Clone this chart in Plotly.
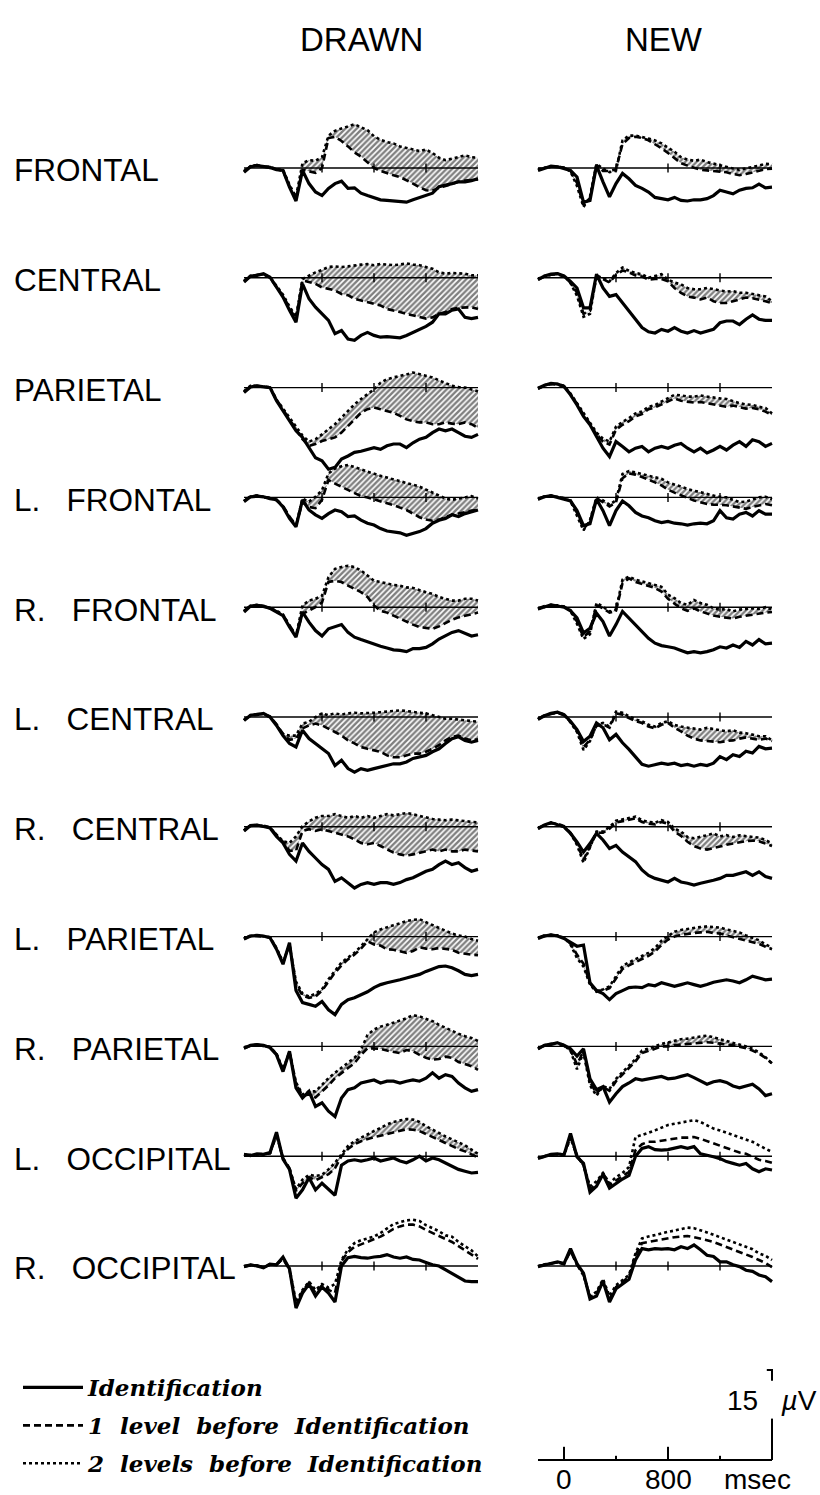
import plotly.graph_objects as go

# ---------------- data (µV) ----------------
TIME_MS = [-200, -150, -100, -50, 0, 50, 100, 150, 200, 250, 300, 350, 400, 450, 500,
           550, 600, 650, 700, 750, 800, 850, 900, 950, 1000, 1050, 1100, 1150, 1200,
           1250, 1300, 1350, 1400, 1450, 1500, 1550, 1600]

SITE_LABELS = ["FRONTAL", "CENTRAL", "PARIETAL", "L.\u00a0\u00a0 FRONTAL", "R.\u00a0\u00a0 FRONTAL",
               "L.\u00a0\u00a0 CENTRAL", "R.\u00a0\u00a0 CENTRAL", "L.\u00a0\u00a0 PARIETAL",
               "R.\u00a0\u00a0 PARIETAL", "L.\u00a0\u00a0 OCCIPITAL", "R.\u00a0\u00a0 OCCIPITAL"]
CONDITIONS = ["DRAWN", "NEW"]
SERIES_NAMES = ["Identification", "1\u00a0 level\u00a0 before\u00a0 Identification",
                "2\u00a0 levels\u00a0 before\u00a0 Identification"]

SCALE_UV = 15
SCALE_TICKS_MS = [0, 400, 800, 1200]
SCALE_TICK_LABELS = ["0", "", "800", ""]
BASELINE_TICKS_MS = [400, 800, 1200]

# ---- DRAWN ----
FRONTAL_DRAWN_ID = [-0.7, 0.2, 0.4, 0.3, 0.1, -0.3, -0.4, -3.2, -5.5, -0.4, -2.6, -4.0, -4.6, -3.4, -2.6, -2.2, -3.4, -3.3, -4.2, -4.6, -4.9, -5.3, -5.4, -5.5, -5.7, -5.7, -5.3, -4.9, -4.6, -4.2, -3.1, -2.9, -2.6, -2.3, -2.3, -2.1, -1.8]
FRONTAL_DRAWN_L1 = [-0.6, 0.3, 0.5, 0.2, 0.0, -0.2, -0.5, -3.0, -5.2, -0.3, -0.6, -0.8, 0.0, 5.0, 5.2, 4.5, 3.6, 2.6, 1.9, 1.0, 0.0, -0.5, -0.9, -1.2, -1.5, -2.0, -2.6, -3.2, -3.7, -3.8, -3.3, -3.0, -2.6, -2.3, -2.1, -2.0, -1.9]
FRONTAL_DRAWN_L2 = [-0.5, 0.3, 0.5, 0.2, 0.2, -0.2, -0.3, -2.8, -4.8, 0.8, 1.3, 1.2, 1.8, 5.4, 6.2, 6.6, 6.9, 7.3, 6.8, 6.3, 5.3, 4.7, 4.3, 4.1, 3.6, 3.4, 3.1, 2.8, 3.1, 2.5, 1.7, 1.3, 1.6, 1.9, 2.1, 1.8, 1.7]

CENTRAL_DRAWN_ID = [-0.7, 0.3, 0.4, 0.7, 0.1, -1.6, -3.2, -5.4, -7.4, -1.0, -3.5, -4.9, -6.0, -7.1, -9.3, -8.8, -10.2, -10.4, -9.6, -9.1, -9.6, -9.9, -9.8, -9.9, -10.0, -9.6, -9.1, -8.5, -8.1, -7.4, -6.0, -6.0, -5.4, -5.2, -6.6, -6.8, -6.6]
CENTRAL_DRAWN_L1 = [-0.6, 0.2, 0.5, 0.6, 0.0, -1.4, -3.0, -5.0, -7.0, -0.4, -0.7, -1.0, -1.6, -1.8, -2.1, -2.7, -2.9, -3.5, -3.8, -4.1, -4.3, -4.6, -5.2, -5.4, -5.7, -6.0, -6.3, -6.6, -6.8, -6.6, -6.0, -5.7, -5.2, -5.0, -4.9, -4.9, -5.2]
CENTRAL_DRAWN_L2 = [-0.5, 0.3, 0.4, 0.6, 0.1, -1.3, -2.8, -4.8, -6.5, -0.2, 0.4, 0.9, 1.3, 1.8, 1.9, 1.8, 1.9, 2.1, 2.2, 2.3, 2.1, 2.3, 2.2, 2.1, 2.2, 2.4, 2.2, 2.1, 1.8, 1.5, 0.9, 0.7, 0.8, 0.7, 0.7, 0.4, 0.4]

PARIETAL_DRAWN_ID = [-0.8, 0.1, 0.3, 0.1, 0.0, -2.2, -3.9, -5.6, -7.2, -8.3, -10.0, -11.7, -12.2, -13.6, -13.3, -11.9, -11.4, -10.8, -10.6, -10.3, -10.0, -10.3, -9.7, -9.4, -9.4, -10.0, -9.2, -8.6, -8.3, -7.5, -6.9, -7.2, -6.9, -7.5, -8.1, -8.3, -7.8]
PARIETAL_DRAWN_L1 = [-0.7, 0.2, 0.3, 0.2, 0.0, -2.0, -3.6, -5.3, -7.0, -8.6, -9.7, -9.4, -8.9, -8.6, -8.3, -7.5, -6.4, -5.3, -4.2, -3.6, -3.3, -3.6, -3.9, -4.2, -4.7, -5.3, -5.6, -5.8, -5.8, -6.1, -6.1, -5.8, -6.0, -6.1, -5.8, -6.1, -6.7]
PARIETAL_DRAWN_L2 = [-0.6, 0.3, 0.2, 0.1, 0.1, -2.0, -3.5, -5.0, -6.5, -8.0, -9.0, -8.6, -7.8, -6.9, -6.1, -5.0, -3.9, -2.8, -1.9, -1.1, -0.3, 0.8, 1.4, 1.7, 1.9, 2.2, 2.5, 2.2, 1.9, 1.7, 1.2, 0.8, 0.3, 0.1, 0.0, -0.3, -0.6]

LFRONTAL_DRAWN_ID = [-0.7, 0.1, 0.2, 0.1, -0.2, -0.4, -1.6, -3.5, -4.9, -0.4, -2.1, -2.9, -3.5, -2.7, -2.1, -2.4, -3.2, -3.1, -3.8, -4.3, -4.6, -5.2, -5.6, -5.7, -5.9, -6.3, -6.0, -5.7, -5.2, -4.3, -3.8, -3.5, -2.9, -3.2, -2.7, -2.4, -2.1]
LFRONTAL_DRAWN_L1 = [-0.6, 0.2, 0.3, 0.0, -0.1, -0.5, -1.4, -3.2, -4.6, -0.8, -1.6, -1.8, -0.4, 2.9, 2.3, 1.8, 1.2, 0.7, 0.2, 0.0, -0.3, -0.6, -0.9, -1.3, -1.7, -2.1, -2.7, -3.3, -3.7, -3.9, -3.7, -3.3, -2.9, -2.7, -2.4, -2.2, -2.1]
LFRONTAL_DRAWN_L2 = [-0.6, 0.1, 0.3, 0.1, -0.1, -0.3, -1.5, -3.3, -4.7, -0.2, -0.7, 0.1, 1.2, 4.0, 4.8, 5.2, 5.4, 5.1, 4.7, 4.3, 3.9, 3.6, 3.3, 3.0, 2.7, 2.4, 2.1, 1.8, 1.3, 0.8, 0.4, -0.2, -0.4, -0.2, 0.1, 0.2, -0.2]

RFRONTAL_DRAWN_ID = [-0.8, 0.2, 0.3, 0.2, -0.2, -0.8, -1.4, -3.3, -5.0, -0.8, -2.5, -3.9, -4.8, -3.6, -3.2, -2.9, -4.2, -5.0, -5.4, -5.8, -6.1, -6.5, -6.8, -7.1, -7.2, -7.4, -6.9, -6.9, -6.7, -6.1, -5.3, -4.8, -4.2, -3.9, -4.4, -4.8, -4.6]
RFRONTAL_DRAWN_L1 = [-0.7, 0.3, 0.2, 0.1, -0.1, -0.7, -1.3, -3.0, -4.7, -1.1, -0.6, 0.0, 0.8, 4.2, 4.4, 4.2, 3.6, 3.1, 2.5, 1.7, 0.3, -0.6, -0.9, -1.4, -1.9, -2.5, -2.9, -3.3, -3.5, -3.6, -3.2, -2.6, -2.1, -1.7, -1.4, -1.1, -0.9]
RFRONTAL_DRAWN_L2 = [-0.6, 0.2, 0.4, 0.2, -0.1, -0.6, -1.2, -3.1, -4.8, 0.3, 1.1, 1.4, 1.9, 5.0, 6.4, 6.7, 6.9, 6.7, 6.1, 5.3, 4.4, 4.2, 3.9, 3.7, 3.6, 3.3, 3.2, 2.8, 2.5, 2.2, 1.7, 1.4, 1.1, 1.1, 1.4, 1.4, 1.1]

LCENTRAL_DRAWN_ID = [-0.6, 0.3, 0.4, 0.6, 0.0, -1.4, -3.1, -4.4, -5.0, -2.2, -3.6, -4.4, -5.3, -6.1, -8.1, -7.2, -8.6, -9.2, -8.6, -8.9, -8.6, -8.3, -8.1, -7.8, -7.8, -7.5, -6.9, -6.7, -6.4, -5.8, -5.3, -4.4, -3.6, -3.3, -3.9, -4.2, -3.9]
LCENTRAL_DRAWN_L1 = [-0.5, 0.2, 0.5, 0.5, 0.1, -1.2, -2.8, -3.8, -3.6, -1.9, -1.4, -1.1, -1.4, -1.9, -2.5, -3.1, -3.9, -4.4, -5.0, -5.3, -5.6, -5.8, -6.4, -6.7, -6.7, -6.4, -6.1, -6.1, -5.8, -5.3, -4.7, -3.9, -3.3, -3.1, -3.6, -3.9, -3.7]
LCENTRAL_DRAWN_L2 = [-0.5, 0.3, 0.4, 0.5, 0.0, -1.3, -2.9, -3.1, -3.1, -1.1, -0.8, 0.0, 0.6, 0.3, 0.6, 0.4, 0.6, 0.7, 0.6, 0.6, 0.7, 0.8, 0.9, 1.0, 1.1, 1.0, 0.8, 0.7, 0.6, 0.3, 0.0, -0.3, -0.3, -0.4, -0.6, -0.7, -0.8]

RCENTRAL_DRAWN_ID = [-0.7, 0.2, 0.3, 0.1, -0.2, -1.6, -2.7, -4.6, -5.7, -2.7, -4.1, -5.2, -6.3, -7.1, -9.1, -8.5, -9.3, -10.2, -9.6, -9.3, -9.6, -9.3, -9.3, -9.6, -9.3, -8.8, -8.5, -7.9, -7.4, -7.1, -6.3, -5.7, -6.3, -6.0, -6.8, -7.4, -7.1]
RCENTRAL_DRAWN_L1 = [-0.6, 0.3, 0.2, 0.2, -0.1, -1.4, -2.5, -4.0, -4.0, -0.7, -0.4, -0.7, -0.4, -0.7, -1.0, -1.3, -1.6, -2.1, -2.7, -2.9, -2.7, -3.2, -3.8, -4.3, -4.6, -4.8, -4.6, -4.3, -4.1, -3.8, -4.1, -3.8, -4.1, -4.1, -3.8, -3.9, -4.1]
RCENTRAL_DRAWN_L2 = [-0.6, 0.2, 0.3, 0.1, -0.1, -1.3, -2.4, -2.7, -1.6, 0.1, 0.9, 1.5, 1.8, 1.8, 2.1, 1.8, 1.5, 1.8, 1.5, 1.8, 1.5, 1.8, 2.1, 1.9, 2.1, 2.3, 2.1, 1.8, 1.5, 1.3, 1.2, 1.1, 1.2, 1.1, 0.9, 0.8, 0.7]

LPARIETAL_DRAWN_ID = [-0.4, 0.1, 0.2, 0.1, -0.2, -2.1, -4.6, -1.0, -9.0, -11.0, -11.3, -11.6, -10.8, -12.2, -13.0, -11.3, -10.5, -10.2, -9.7, -9.2, -8.5, -8.0, -7.7, -7.5, -7.2, -6.9, -6.6, -6.3, -5.8, -5.4, -5.0, -4.9, -5.2, -5.7, -6.3, -6.5, -6.3]
LPARIETAL_DRAWN_L1 = [-0.4, 0.2, 0.1, 0.0, -0.1, -2.0, -4.4, -1.3, -8.0, -9.8, -10.2, -10.0, -9.0, -7.5, -6.0, -4.8, -3.8, -3.0, -2.0, -0.8, -1.3, -1.5, -2.1, -2.2, -2.4, -2.7, -2.4, -1.8, -2.0, -2.1, -1.9, -2.0, -2.2, -2.7, -2.9, -3.0, -3.1]
LPARIETAL_DRAWN_L2 = [-0.3, 0.1, 0.2, 0.1, -0.1, -1.9, -4.2, -1.5, -7.5, -9.5, -10.0, -9.5, -8.8, -7.1, -5.6, -4.3, -3.5, -2.7, -1.6, -0.4, 0.7, 1.2, 1.6, 1.9, 2.2, 2.6, 2.8, 2.9, 2.4, 1.9, 1.4, 0.9, 0.5, 0.2, 0.0, -0.4, -0.7]

RPARIETAL_DRAWN_ID = [-0.3, 0.2, 0.3, 0.2, -0.2, -1.4, -4.2, -0.8, -6.9, -8.6, -7.5, -10.0, -9.4, -10.8, -11.7, -8.6, -7.2, -6.9, -6.1, -5.8, -5.6, -6.1, -5.8, -5.8, -6.1, -5.8, -5.6, -5.8, -5.3, -4.4, -5.3, -4.7, -5.0, -6.1, -6.9, -7.5, -7.2]
RPARIETAL_DRAWN_L1 = [-0.3, 0.1, 0.3, 0.1, -0.1, -1.3, -4.0, -0.9, -6.3, -8.2, -8.0, -8.5, -7.5, -6.5, -5.3, -4.4, -3.6, -2.8, -1.4, -0.3, -0.3, -0.4, -0.7, -0.9, -1.1, -0.6, -0.8, -1.4, -1.9, -2.2, -2.1, -1.7, -1.9, -2.6, -2.9, -3.3, -3.9]
RPARIETAL_DRAWN_L2 = [-0.2, 0.2, 0.2, 0.1, -0.1, -1.2, -3.8, -1.0, -6.0, -8.0, -7.5, -7.5, -6.4, -5.3, -4.4, -3.6, -2.8, -1.9, -0.6, 1.9, 2.8, 3.3, 3.6, 3.9, 4.3, 4.7, 5.2, 5.0, 4.6, 4.2, 3.6, 3.1, 2.5, 2.1, 1.7, 1.4, 0.9]

LOCCIPITAL_DRAWN_ID = [0.3, 0.1, 0.4, 0.3, 0.6, 4.0, -0.5, -2.2, -7.0, -5.6, -3.6, -5.6, -4.5, -5.5, -6.5, -1.5, -0.8, -0.6, -0.8, -0.6, -0.3, -0.8, -0.6, -0.3, -0.8, -1.1, -0.6, 0.0, -0.8, -0.3, -0.6, -1.1, -1.7, -2.2, -2.5, -2.8, -2.7]
LOCCIPITAL_DRAWN_L1 = [0.2, 0.2, 0.3, 0.4, 0.5, 3.5, -0.3, -2.0, -5.8, -4.5, -3.5, -4.0, -3.5, -3.0, -2.0, 0.0, 1.2, 2.0, 2.5, 2.9, 3.2, 3.4, 3.7, 4.0, 4.3, 4.5, 4.4, 4.2, 3.7, 3.2, 2.6, 2.1, 1.6, 1.2, 0.8, 0.3, -0.2]
LOCCIPITAL_DRAWN_L2 = [0.3, 0.1, 0.3, 0.3, 0.5, 3.6, -0.4, -2.1, -5.5, -3.9, -3.1, -3.3, -3.1, -2.2, -1.1, 0.3, 1.7, 2.5, 3.1, 3.6, 4.2, 4.7, 5.3, 5.7, 6.0, 6.2, 6.1, 5.7, 5.0, 4.4, 3.9, 3.3, 2.8, 2.3, 1.8, 1.1, 0.4]

ROCCIPITAL_DRAWN_ID = [-0.1, 0.2, 0.0, -0.3, 0.3, 0.2, 1.5, -0.5, -7.0, -4.5, -3.0, -5.0, -3.5, -4.5, -6.0, 0.0, 1.4, 1.6, 1.4, 1.3, 1.5, 1.6, 1.9, 1.5, 1.3, 1.5, 1.1, 1.0, 0.6, 0.2, 0.0, -0.6, -1.2, -1.9, -2.5, -2.6, -2.6]
ROCCIPITAL_DRAWN_L1 = [-0.1, 0.1, 0.1, -0.2, 0.2, 0.3, 1.2, -0.6, -6.5, -4.2, -2.8, -4.5, -3.2, -4.0, -4.5, 0.8, 2.3, 3.2, 3.6, 4.0, 4.4, 4.9, 5.5, 6.2, 6.6, 6.9, 6.9, 6.6, 6.0, 5.5, 5.0, 4.4, 4.0, 3.3, 2.6, 1.9, 1.2]
ROCCIPITAL_DRAWN_L2 = [0.0, 0.2, 0.0, -0.2, 0.3, 0.2, 1.3, -0.4, -6.0, -4.0, -2.6, -4.0, -3.0, -3.6, -3.0, 1.0, 2.8, 3.8, 4.3, 4.6, 4.9, 5.5, 6.2, 7.0, 7.3, 7.6, 7.7, 7.5, 6.8, 6.3, 5.8, 5.1, 4.9, 4.0, 3.3, 2.6, 1.6]

# ---- NEW ----
FRONTAL_NEW_ID = [-0.4, -0.1, 0.3, 0.2, -0.1, -0.4, -1.5, -5.7, -5.4, 0.4, -2.3, -4.8, -2.6, -0.9, -1.8, -2.9, -3.4, -4.0, -4.9, -5.1, -5.3, -4.9, -5.4, -5.5, -5.3, -5.3, -5.1, -4.6, -3.7, -4.0, -4.3, -3.7, -3.4, -3.3, -2.7, -3.3, -3.2]
FRONTAL_NEW_L1 = [-0.3, 0.0, 0.2, 0.3, 0.0, -0.5, -2.5, -6.2, -5.0, 0.5, -0.5, -0.5, -0.2, 4.0, 5.0, 5.2, 5.0, 4.6, 4.0, 3.3, 2.5, 1.6, 0.8, 0.4, 0.0, -0.3, -0.4, -0.5, -0.6, -0.7, -1.0, -1.2, -1.0, -0.7, -0.4, -0.2, -0.1]
FRONTAL_NEW_L2 = [-0.2, 0.1, 0.3, 0.2, 0.1, -0.6, -3.0, -6.5, -4.8, 0.7, -0.1, -0.7, -0.4, 4.6, 5.4, 5.4, 5.2, 4.9, 4.6, 4.1, 3.4, 2.7, 1.8, 1.4, 1.2, 1.4, 1.0, 0.7, 0.4, 0.2, -0.1, -0.3, -0.1, 0.2, 0.4, 0.7, 0.6]

CENTRAL_NEW_ID = [-0.3, 0.3, 0.6, 0.7, 0.3, -0.6, -1.7, -5.0, -5.0, 0.6, -1.7, -3.1, -2.8, -4.2, -5.6, -6.9, -8.3, -9.0, -9.2, -8.6, -8.9, -8.3, -8.9, -9.2, -8.8, -9.2, -8.9, -8.6, -7.5, -7.2, -7.2, -7.8, -6.9, -6.2, -6.9, -7.1, -7.1]
CENTRAL_NEW_L1 = [-0.3, 0.2, 0.5, 0.6, 0.2, -0.8, -2.5, -6.0, -5.5, 0.4, -0.2, -0.8, 0.5, 1.2, 0.9, 0.4, 0.2, -0.3, -0.2, -0.2, -0.6, -1.7, -2.5, -3.1, -3.3, -3.6, -3.3, -3.9, -4.2, -4.2, -3.9, -3.6, -3.3, -3.4, -3.6, -3.9, -4.2]
CENTRAL_NEW_L2 = [-0.2, 0.3, 0.5, 0.7, 0.3, -0.9, -3.0, -6.5, -6.0, 0.3, 0.0, -0.6, 0.8, 1.7, 1.2, 0.8, 0.6, 0.0, 0.3, 0.6, -0.3, -0.8, -1.1, -1.7, -1.9, -1.9, -1.7, -1.9, -2.2, -2.3, -2.2, -2.5, -2.5, -2.7, -2.8, -3.1, -3.9]

PARIETAL_NEW_ID = [-0.1, 0.4, 0.7, 0.6, 0.2, -1.2, -2.9, -4.8, -6.2, -8.2, -10.1, -11.5, -9.0, -9.8, -10.7, -10.1, -9.8, -10.7, -10.1, -9.8, -10.1, -9.6, -9.3, -10.1, -10.7, -10.1, -10.9, -10.4, -9.8, -10.4, -9.6, -9.0, -9.8, -8.7, -9.0, -9.8, -9.3]
PARIETAL_NEW_L1 = [-0.2, 0.3, 0.6, 0.5, 0.2, -1.1, -2.7, -4.5, -6.0, -7.8, -9.0, -9.5, -7.0, -6.2, -5.6, -4.8, -4.4, -3.6, -3.3, -2.8, -2.3, -1.8, -2.2, -2.4, -2.5, -2.4, -2.6, -2.7, -3.0, -3.2, -3.0, -3.3, -3.5, -3.4, -3.6, -4.0, -4.6]
PARIETAL_NEW_L2 = [-0.1, 0.4, 0.6, 0.6, 0.3, -1.0, -2.6, -4.3, -5.8, -7.5, -8.5, -9.0, -6.5, -5.7, -5.1, -4.3, -4.0, -3.2, -2.9, -2.3, -1.8, -1.2, -1.3, -1.5, -1.5, -1.3, -1.5, -1.7, -1.8, -1.9, -2.3, -2.6, -2.8, -2.9, -3.2, -3.4, -4.3]

LFRONTAL_NEW_ID = [-0.3, 0.1, 0.3, 0.0, -0.3, -0.6, -2.2, -4.7, -4.4, -0.3, -2.2, -4.7, -2.2, -0.6, -1.4, -2.5, -3.1, -3.4, -3.9, -4.2, -4.0, -4.3, -4.4, -4.6, -4.4, -4.3, -4.4, -3.9, -2.2, -3.4, -3.6, -2.8, -2.5, -3.1, -2.2, -2.8, -2.8]
LFRONTAL_NEW_L1 = [-0.2, 0.2, 0.2, 0.1, -0.2, -0.5, -2.6, -5.2, -4.0, -0.2, -0.8, -1.5, -0.8, 3.2, 4.0, 3.8, 3.4, 3.0, 2.5, 2.0, 1.3, 0.8, 0.3, -0.1, -0.5, -0.8, -1.1, -1.2, -1.2, -1.3, -1.5, -1.7, -1.9, -1.6, -1.3, -1.1, -1.3]
LFRONTAL_NEW_L2 = [-0.3, 0.1, 0.3, 0.1, -0.1, -0.6, -3.0, -5.5, -3.8, 0.0, -0.5, -1.2, -0.5, 3.9, 4.4, 4.2, 3.9, 3.6, 3.3, 3.1, 2.5, 2.2, 1.8, 1.4, 1.1, 0.8, 0.6, 0.3, 0.1, 0.0, -0.4, -0.8, -0.7, -0.4, 0.0, 0.1, -0.3]

RFRONTAL_NEW_ID = [-0.3, 0.1, 0.4, 0.2, 0.0, -0.6, -1.8, -4.3, -3.5, -1.0, -2.4, -4.8, -2.9, -0.7, -1.8, -2.9, -4.1, -5.2, -6.0, -6.4, -6.6, -6.8, -7.2, -7.6, -7.4, -7.6, -7.4, -7.1, -6.6, -6.8, -6.3, -6.7, -5.7, -6.3, -5.4, -6.1, -6.0]
RFRONTAL_NEW_L1 = [-0.2, 0.2, 0.3, 0.2, 0.1, -0.5, -2.4, -5.0, -4.0, 0.3, -0.2, -0.9, -0.6, 4.0, 4.8, 4.2, 3.9, 3.6, 3.2, 2.6, 1.4, 0.6, -0.2, -0.6, -0.2, -0.7, -1.1, -1.4, -1.6, -1.8, -1.9, -1.6, -1.4, -1.2, -1.0, -0.9, -0.8]
RFRONTAL_NEW_L2 = [-0.3, 0.1, 0.4, 0.3, 0.1, -0.6, -2.8, -5.3, -4.5, 0.7, 0.1, -0.7, -0.4, 4.6, 5.1, 4.6, 4.3, 4.0, 3.7, 3.4, 2.1, 1.5, 0.7, 0.4, 1.2, 0.7, 0.4, -0.2, -0.4, -0.3, -0.7, -0.4, -0.3, -0.2, -0.3, 0.0, -0.4]

LCENTRAL_NEW_ID = [-0.4, 0.2, 0.6, 0.8, 0.4, -0.7, -2.1, -4.1, -3.2, -1.0, -1.8, -3.8, -2.9, -4.3, -5.4, -6.6, -7.9, -8.2, -7.9, -7.7, -7.9, -7.7, -8.1, -7.9, -8.2, -7.9, -8.1, -7.7, -6.6, -7.1, -6.3, -6.6, -5.7, -6.0, -4.9, -5.3, -5.2]
LCENTRAL_NEW_L1 = [-0.3, 0.3, 0.5, 0.7, 0.3, -0.8, -2.3, -5.0, -3.8, -1.5, -1.2, -1.8, 0.6, 0.4, -0.2, -0.7, -1.0, -1.6, -1.9, -1.3, -1.0, -1.8, -2.4, -3.1, -3.6, -3.9, -4.0, -4.1, -4.2, -4.0, -3.9, -3.6, -3.4, -3.6, -3.8, -3.6, -4.0]
LCENTRAL_NEW_L2 = [-0.4, 0.2, 0.6, 0.8, 0.4, -0.9, -2.5, -5.5, -4.0, -1.3, -1.0, -1.6, 0.9, 0.7, 0.1, -0.4, -0.7, -1.3, -1.6, -1.0, -0.7, -1.3, -1.6, -1.8, -2.0, -2.1, -1.8, -2.0, -2.1, -2.4, -2.2, -2.6, -2.7, -2.9, -3.2, -3.2, -3.9]

RCENTRAL_NEW_ID = [-0.3, 0.3, 0.7, 0.4, 0.0, -1.1, -2.5, -4.2, -2.8, -1.1, -2.2, -3.6, -3.1, -4.2, -5.0, -5.8, -7.2, -8.1, -8.6, -8.9, -9.2, -8.6, -9.2, -9.4, -9.7, -9.4, -9.2, -8.9, -8.6, -8.1, -8.1, -7.8, -7.5, -8.1, -7.5, -8.3, -8.6]
RCENTRAL_NEW_L1 = [-0.2, 0.3, 0.6, 0.5, 0.1, -1.0, -2.8, -5.5, -3.3, -1.0, -1.0, -0.3, 0.7, 0.9, 1.1, 1.4, 0.8, 0.5, 0.4, 0.8, 0.5, -0.8, -1.5, -2.5, -3.2, -3.6, -3.8, -3.6, -3.3, -3.0, -2.8, -2.5, -2.4, -2.3, -2.4, -2.8, -3.2]
RCENTRAL_NEW_L2 = [-0.3, 0.2, 0.7, 0.4, 0.0, -1.1, -3.0, -6.0, -3.5, -0.8, -0.8, 0.0, 1.0, 1.2, 1.4, 1.7, 1.1, 0.8, 0.7, 1.1, 0.8, -0.3, -0.8, -1.7, -1.9, -1.7, -1.4, -1.1, -1.6, -1.4, -1.7, -1.4, -1.6, -1.7, -1.8, -2.2, -2.8]

LPARIETAL_NEW_ID = [-0.3, 0.1, 0.3, 0.1, -0.3, -1.0, -1.6, -1.4, -7.7, -9.0, -9.5, -10.5, -9.5, -9.0, -8.5, -8.4, -8.5, -8.0, -8.2, -7.7, -8.0, -8.3, -8.0, -7.7, -8.0, -8.3, -8.0, -7.6, -7.4, -7.2, -7.4, -7.7, -7.2, -6.6, -6.9, -7.2, -7.1]
LPARIETAL_NEW_L1 = [-0.2, 0.2, 0.2, 0.1, -0.2, -1.2, -3.0, -4.5, -7.8, -9.0, -9.0, -8.6, -7.0, -5.4, -4.8, -4.3, -3.8, -3.2, -2.5, -1.4, -0.5, 0.0, 0.3, 0.5, 0.6, 0.7, 0.8, 0.6, 0.5, 0.2, -0.1, -0.3, -0.6, -0.9, -1.2, -1.7, -2.1]
LPARIETAL_NEW_L2 = [-0.3, 0.1, 0.3, 0.2, -0.2, -1.3, -3.6, -5.0, -8.0, -9.2, -8.8, -8.3, -6.6, -4.9, -4.3, -3.8, -3.2, -2.7, -1.9, -0.7, 0.1, 0.8, 1.1, 1.3, 1.5, 1.6, 1.7, 1.6, 1.5, 1.2, 0.9, 0.7, 0.2, -0.2, -0.6, -1.3, -1.8]

RPARIETAL_NEW_ID = [-0.4, 0.2, 0.4, 0.6, 0.2, -0.4, -1.6, -0.4, -5.4, -7.2, -6.7, -9.3, -7.9, -6.7, -6.1, -5.4, -5.6, -5.4, -5.3, -5.0, -5.4, -5.3, -5.0, -4.7, -5.2, -5.7, -6.3, -5.9, -5.7, -6.0, -6.6, -6.9, -6.6, -6.3, -7.1, -8.2, -7.9]
RPARIETAL_NEW_L1 = [-0.3, 0.1, 0.3, 0.5, 0.1, -0.6, -3.0, -0.8, -6.0, -7.8, -6.8, -7.4, -5.8, -4.7, -3.5, -2.5, -1.1, -0.8, -0.4, 0.0, 0.0, 0.2, 0.3, 0.5, 0.6, 0.7, 0.7, 0.6, 0.4, 0.3, 0.2, 0.0, -0.3, -0.7, -1.2, -1.9, -2.8]
RPARIETAL_NEW_L2 = [-0.4, 0.2, 0.4, 0.6, 0.2, -0.7, -3.8, -1.0, -6.5, -8.2, -6.6, -7.1, -5.4, -4.3, -3.1, -2.1, -0.7, -0.4, 0.0, 0.4, 0.7, 0.9, 1.2, 1.3, 1.5, 1.7, 1.8, 1.5, 1.2, 0.9, 0.7, 0.4, 0.0, -0.4, -1.0, -1.8, -2.9]

LOCCIPITAL_NEW_ID = [-0.4, -0.1, 0.3, 0.4, 0.2, 3.8, -0.1, -1.2, -6.0, -5.0, -3.0, -5.3, -4.5, -3.8, -3.2, 0.0, 1.3, 1.6, 1.1, 1.0, 1.1, 1.3, 1.6, 1.3, 1.6, 0.4, 0.2, -0.1, -0.4, -0.9, -1.2, -1.5, -1.2, -2.1, -2.6, -2.1, -2.3]
LOCCIPITAL_NEW_L1 = [-0.3, 0.0, 0.2, 0.4, 0.3, 3.2, 0.0, -1.5, -5.5, -4.6, -2.8, -4.8, -4.0, -3.3, -2.6, 1.0, 2.0, 2.4, 2.4, 2.6, 2.8, 2.9, 3.1, 3.1, 3.2, 2.9, 2.5, 2.1, 1.8, 1.4, 1.0, 0.6, 0.4, -0.1, -0.6, -0.8, -1.1]
LOCCIPITAL_NEW_L2 = [-0.3, 0.0, 0.3, 0.3, 0.2, 3.0, 0.2, -1.5, -5.0, -4.2, -2.8, -4.5, -3.5, -2.8, -1.8, 3.2, 3.5, 3.9, 4.3, 4.8, 5.2, 5.4, 5.6, 5.7, 6.0, 5.7, 5.2, 4.6, 4.3, 3.9, 3.5, 3.2, 2.8, 2.4, 1.8, 1.3, 0.7]

ROCCIPITAL_NEW_ID = [-0.1, 0.2, 0.4, 0.7, 0.4, 2.9, 0.4, -1.2, -5.5, -5.0, -2.5, -6.0, -3.8, -3.0, -2.2, 1.0, 2.9, 2.7, 2.9, 2.8, 2.9, 2.7, 3.2, 2.9, 3.5, 2.7, 1.8, 1.6, 0.7, 0.7, 0.2, -0.1, -0.7, -0.9, -1.5, -1.8, -2.6]
ROCCIPITAL_NEW_L1 = [0.0, 0.2, 0.3, 0.6, 0.3, 2.5, 0.2, -1.4, -5.2, -4.6, -2.4, -5.5, -3.5, -2.7, -1.8, 1.8, 3.8, 4.0, 4.2, 4.5, 4.6, 4.8, 4.9, 5.0, 4.8, 4.6, 4.3, 4.0, 3.6, 3.2, 2.7, 2.3, 1.9, 1.5, 1.0, 0.5, -0.2]
ROCCIPITAL_NEW_L2 = [-0.1, 0.3, 0.4, 0.6, 0.4, 2.6, 0.3, -1.6, -5.0, -4.3, -2.2, -5.0, -3.2, -2.4, -1.5, 2.1, 4.6, 4.9, 5.2, 5.4, 5.7, 5.9, 6.1, 6.4, 6.3, 6.0, 5.6, 5.2, 4.8, 4.3, 3.9, 3.5, 3.2, 2.8, 2.1, 1.7, 1.0]

PANELS = {
    "DRAWN": [
        (FRONTAL_DRAWN_ID, FRONTAL_DRAWN_L1, FRONTAL_DRAWN_L2),
        (CENTRAL_DRAWN_ID, CENTRAL_DRAWN_L1, CENTRAL_DRAWN_L2),
        (PARIETAL_DRAWN_ID, PARIETAL_DRAWN_L1, PARIETAL_DRAWN_L2),
        (LFRONTAL_DRAWN_ID, LFRONTAL_DRAWN_L1, LFRONTAL_DRAWN_L2),
        (RFRONTAL_DRAWN_ID, RFRONTAL_DRAWN_L1, RFRONTAL_DRAWN_L2),
        (LCENTRAL_DRAWN_ID, LCENTRAL_DRAWN_L1, LCENTRAL_DRAWN_L2),
        (RCENTRAL_DRAWN_ID, RCENTRAL_DRAWN_L1, RCENTRAL_DRAWN_L2),
        (LPARIETAL_DRAWN_ID, LPARIETAL_DRAWN_L1, LPARIETAL_DRAWN_L2),
        (RPARIETAL_DRAWN_ID, RPARIETAL_DRAWN_L1, RPARIETAL_DRAWN_L2),
        (LOCCIPITAL_DRAWN_ID, LOCCIPITAL_DRAWN_L1, LOCCIPITAL_DRAWN_L2),
        (ROCCIPITAL_DRAWN_ID, ROCCIPITAL_DRAWN_L1, ROCCIPITAL_DRAWN_L2),
    ],
    "NEW": [
        (FRONTAL_NEW_ID, FRONTAL_NEW_L1, FRONTAL_NEW_L2),
        (CENTRAL_NEW_ID, CENTRAL_NEW_L1, CENTRAL_NEW_L2),
        (PARIETAL_NEW_ID, PARIETAL_NEW_L1, PARIETAL_NEW_L2),
        (LFRONTAL_NEW_ID, LFRONTAL_NEW_L1, LFRONTAL_NEW_L2),
        (RFRONTAL_NEW_ID, RFRONTAL_NEW_L1, RFRONTAL_NEW_L2),
        (LCENTRAL_NEW_ID, LCENTRAL_NEW_L1, LCENTRAL_NEW_L2),
        (RCENTRAL_NEW_ID, RCENTRAL_NEW_L1, RCENTRAL_NEW_L2),
        (LPARIETAL_NEW_ID, LPARIETAL_NEW_L1, LPARIETAL_NEW_L2),
        (RPARIETAL_NEW_ID, RPARIETAL_NEW_L1, RPARIETAL_NEW_L2),
        (LOCCIPITAL_NEW_ID, LOCCIPITAL_NEW_L1, LOCCIPITAL_NEW_L2),
        (ROCCIPITAL_NEW_ID, ROCCIPITAL_NEW_L1, ROCCIPITAL_NEW_L2),
    ],
}
# panels whose difference between the two "before" curves is hatched
HATCHED = {"DRAWN": [True] * 10 + [False], "NEW": [True] * 9 + [False, False]}
LEGEND_PANEL = ("DRAWN", 10)   # an un-hatched panel supplies the legend samples

# ---------------- layout (pixels of the 820 x 1495 page) ----------------
W, H = 820, 1495
PX_PER_UV = 6.0
PX_PER_MS = 0.13
ROW0_PX, ROW_STEP_PX = 168.0, 109.8
ZERO_MS_PX = {"DRAWN": 270.0, "NEW": 564.0}
X_RANGE = [-215, 1615]
AXIS = {"DRAWN": "x", "NEW": "x2"}
FONT = "Liberation Sans, Arial, sans-serif"


def y_of_px(px):
    return (ROW0_PX - px) / PX_PER_UV


def row_offset(k):
    return -k * ROW_STEP_PX / PX_PER_UV


fig = go.Figure()

for cond in CONDITIONS:
    xa = AXIS[cond]
    for k, (s_id, s_l1, s_l2) in enumerate(PANELS[cond]):
        off = row_offset(k)
        leg = (cond, k) == LEGEND_PANEL
        # baseline with small time ticks
        fig.add_trace(go.Scatter(x=[TIME_MS[0], TIME_MS[-1]], y=[off, off], xaxis=xa, yaxis="y",
                                 mode="lines", line=dict(color="black", width=1.4),
                                 showlegend=False, hoverinfo="skip"))
        tx, ty = [], []
        for t in BASELINE_TICKS_MS:
            tx += [t, t, None]
            ty += [off - 0.75, off + 0.75, None]
        fig.add_trace(go.Scatter(x=tx, y=ty, xaxis=xa, yaxis="y", mode="lines",
                                 line=dict(color="black", width=1.4),
                                 showlegend=False, hoverinfo="skip"))
        # 1 level before (dashed)
        fig.add_trace(go.Scatter(x=TIME_MS, y=[v + off for v in s_l1], xaxis=xa, yaxis="y",
                                 mode="lines", name=SERIES_NAMES[1],
                                 line=dict(color="black", width=2.6, dash="7px,4px"),
                                 showlegend=leg, legendrank=2, legendgroup="l1"))
        # 2 levels before (dotted) with hatched fill to the dashed curve
        kw = {}
        if HATCHED[cond][k]:
            kw = dict(fill="tonexty", fillcolor="rgba(0,0,0,0)",
                      fillpattern=dict(shape="/", size=4, solidity=0.6,
                                       fgcolor="black", bgcolor="rgba(0,0,0,0)"))
        fig.add_trace(go.Scatter(x=TIME_MS, y=[v + off for v in s_l2], xaxis=xa, yaxis="y",
                                 mode="lines", name=SERIES_NAMES[2],
                                 line=dict(color="black", width=2.6, dash="dot"),
                                 showlegend=leg, legendrank=3, legendgroup="l2", **kw))
        # identification (solid)
        fig.add_trace(go.Scatter(x=TIME_MS, y=[v + off for v in s_id], xaxis=xa, yaxis="y",
                                 mode="lines", name=SERIES_NAMES[0],
                                 line=dict(color="black", width=3.2),
                                 showlegend=leg, legendrank=1, legendgroup="id"))

# ---------------- scale bar (on the NEW time axis) ----------------
y_h = y_of_px(1460)
fig.add_trace(go.Scatter(x=[TIME_MS[0], TIME_MS[-1]], y=[y_h, y_h], xaxis="x2", yaxis="y",
                         mode="lines", line=dict(color="black", width=2),
                         showlegend=False, hoverinfo="skip"))
sx, sy = [], []
for t, lab in zip(SCALE_TICKS_MS, SCALE_TICK_LABELS):
    sx += [t, t, None]
    sy += [y_h, y_h + (2.2 if lab else 0.7), None]
fig.add_trace(go.Scatter(x=sx, y=sy, xaxis="x2", yaxis="y", mode="lines",
                         line=dict(color="black", width=2), showlegend=False, hoverinfo="skip"))
t_end = TIME_MS[-1]
fig.add_trace(go.Scatter(x=[t_end, t_end, None, t_end - 40, t_end, t_end],
                         y=[y_h, y_h + SCALE_UV * 0.46, None,
                            y_h + SCALE_UV, y_h + SCALE_UV, y_h + SCALE_UV * 0.88],
                         xaxis="x2", yaxis="y", mode="lines",
                         line=dict(color="black", width=2), showlegend=False, hoverinfo="skip"))

annotations = []
for t, lab in zip(SCALE_TICKS_MS, SCALE_TICK_LABELS):
    if lab:
        annotations.append(dict(x=t, y=y_of_px(1479), xref="x2", yref="y", text=lab,
                                showarrow=False, font=dict(family=FONT, size=28, color="black")))
annotations.append(dict(x=1490, y=y_of_px(1479), xref="x2", yref="y", text="msec",
                        showarrow=False, font=dict(family=FONT, size=28, color="black")))
annotations.append(dict(x=t_end, y=y_of_px(1400), xref="x2", yref="y",
                        text="15\u00a0\u00a0\u00a0<i>\u00b5</i>V",
                        showarrow=False, font=dict(family=FONT, size=28, color="black")))

# column titles
annotations.append(dict(x=700, y=1 - 40 / H, xref="x", yref="paper", text="DRAWN",
                        yanchor="middle", showarrow=False,
                        font=dict(family=FONT, size=33, color="black")))
annotations.append(dict(x=770, y=1 - 40 / H, xref="x2", yref="paper", text="NEW",
                        yanchor="middle", showarrow=False,
                        font=dict(family=FONT, size=33, color="black")))
# row labels
for k, lab in enumerate(SITE_LABELS):
    annotations.append(dict(x=12 / W, y=row_offset(k) - 0.4, xref="paper", yref="y", text=lab,
                            xanchor="left", yanchor="middle", showarrow=False,
                            font=dict(family=FONT, size=31.5, color="black")))


def domain(cond):
    z = ZERO_MS_PX[cond]
    return [(z + PX_PER_MS * X_RANGE[0]) / W, (z + PX_PER_MS * X_RANGE[1]) / W]


hidden = dict(visible=False, showgrid=False, zeroline=False)
fig.update_layout(
    width=W, height=H, margin=dict(l=0, r=0, t=0, b=0),
    paper_bgcolor="white", plot_bgcolor="white",
    xaxis=dict(domain=domain("DRAWN"), range=X_RANGE, anchor="y", **hidden),
    xaxis2=dict(domain=domain("NEW"), range=X_RANGE, anchor="y", **hidden),
    yaxis=dict(domain=[0, 1], range=[y_of_px(H), y_of_px(0)], **hidden),
    annotations=annotations,
    legend=dict(x=18 / W, y=1 - 1366 / H, xanchor="left", yanchor="top",
                bgcolor="rgba(0,0,0,0)", tracegroupgap=5, itemwidth=60,
                font=dict(family="DejaVu Serif, serif", size=23, style="italic",
                          weight="bold", color="black")),
    showlegend=True,
)

fig.write_html("out.html")
